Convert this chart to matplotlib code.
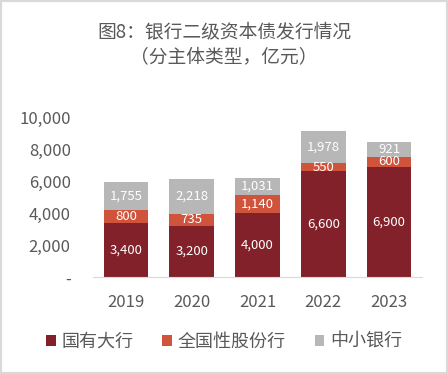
import matplotlib
matplotlib.use("Agg")
import matplotlib.pyplot as plt
from matplotlib.patches import Rectangle
import numpy as np

plt.rcParams['font.family'] = ['Noto Sans CJK SC', 'DejaVu Sans']

years = ['2019', '2020', '2021', '2022', '2023']
big4 = [3400, 3200, 4000, 6600, 6900]
joint = [800, 735, 1140, 550, 600]
small = [1755, 2218, 1031, 1978, 921]
series_names = ['国有大行', '全国性股份行', '中小银行']
colors = ['#82212a', '#d0533c', '#b7b7b7']
yticks = [0, 2000, 4000, 6000, 8000, 10000]

fig = plt.figure(figsize=(4.48, 3.74), dpi=100)
fig.patches.append(Rectangle((0, 0), 1, 1, transform=fig.transFigure, fill=False,
                             edgecolor='#d9d9d9', linewidth=3))
ax = fig.add_axes([0.2076, 0.2594, 0.7344, 0.4276])

x = np.arange(len(years))
w = 0.68
bottoms = np.zeros(len(years))
handles = []
for vals, c, name in zip([big4, joint, small], colors, series_names):
    vals = np.array(vals, dtype=float)
    b = ax.bar(x, vals, w, bottom=bottoms, color=c, label=name)
    handles.append(b)
    for xi, v, bt in zip(x, vals, bottoms):
        ax.text(xi, bt + v / 2, f'{int(v):,}', ha='center', va='center',
                color='white', fontsize=9.5)
    bottoms = bottoms + vals

ax.set_xlim(-0.5, len(years) - 0.5)
ax.set_ylim(0, 10000)
ax.set_yticks(yticks)
ax.set_yticklabels(['-' if t == 0 else f'{t:,}' for t in yticks])
ax.set_xticks(x)
ax.set_xticklabels(years)
for s in ['top', 'right', 'left']:
    ax.spines[s].set_visible(False)
ax.spines['bottom'].set_color('#d9d9d9')
ax.tick_params(axis='both', length=0, colors='#595959', labelsize=12)
ax.tick_params(axis='y', pad=16)
ax.tick_params(axis='x', pad=12)

fig.text(0.5, 0.914, '图8：银行二级资本债发行情况', ha='center', va='center',
         fontsize=13.5, color='#595959')
fig.text(0.5, 0.848, '（分主体类型，亿元）', ha='center', va='center',
         fontsize=13.5, color='#595959')

fig.legend(handles=handles, labels=series_names, loc='center', bbox_to_anchor=(0.5, 0.087),
           ncol=3, frameon=False, fontsize=13, labelcolor='#595959',
           handlelength=0.55, handleheight=0.55, handletextpad=0.3, columnspacing=1.6)

fig.savefig('out.png', dpi=100)
